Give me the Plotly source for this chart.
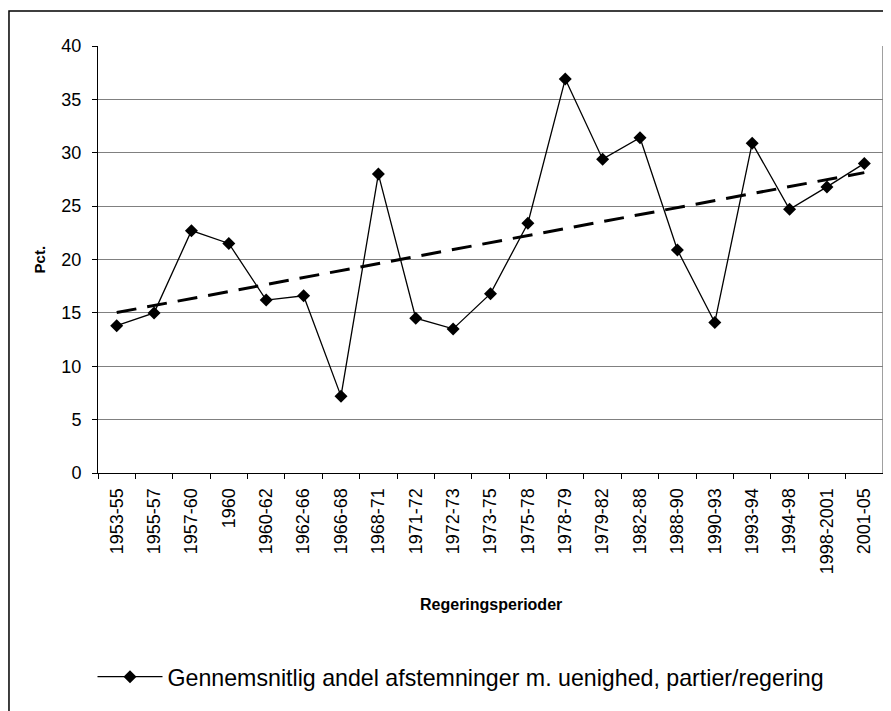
import numpy as np
import plotly.graph_objects as go

periods = ["1953-55", "1955-57", "1957-60", "1960", "1960-62", "1962-66", "1966-68",
           "1968-71", "1971-72", "1972-73", "1973-75", "1975-78", "1978-79", "1979-82",
           "1982-88", "1988-90", "1990-93", "1993-94", "1994-98", "1998-2001", "2001-05"]
values = [13.8, 15.0, 22.7, 21.5, 16.2, 16.6, 7.2, 28.0, 14.5, 13.5, 16.8, 23.4,
          36.9, 29.4, 31.4, 20.9, 14.1, 30.9, 24.7, 26.8, 29.0]
y_ticks = [0, 5, 10, 15, 20, 25, 30, 35, 40]
series_name = "Gennemsnitlig andel afstemninger m. uenighed, partier/regering"
x_title = "Regeringsperioder"
y_title = "Pct."

# linear trendline (as in the original spreadsheet chart)
idx = np.arange(len(values))
slope, intercept = np.polyfit(idx, values, 1)
trend = intercept + slope * idx

font = "Liberation Sans, Arial, sans-serif"

fig = go.Figure()
fig.add_trace(go.Scatter(
    x=periods, y=trend, mode="lines", showlegend=False,
    line=dict(color="black", width=3, dash="20px,11px"), hoverinfo="skip"))
fig.add_trace(go.Scatter(
    x=periods, y=values, mode="lines+markers", name=series_name,
    line=dict(color="black", width=1.3),
    marker=dict(symbol="diamond", size=10, color="black")))

fig.update_layout(
    width=883, height=703,
    margin=dict(l=90, r=8, t=38, b=238),
    paper_bgcolor="white", plot_bgcolor="white",
    font=dict(family=font, color="black"),
    showlegend=True,
    legend=dict(x=-0.007, y=-0.478, xanchor="left", yanchor="middle",
                orientation="h", font=dict(size=23.2, family=font),
                itemwidth=65, bgcolor="rgba(0,0,0,0)"),
    xaxis=dict(type="category", tickson="boundaries", ticks="outside",
               range=[-0.5, len(periods) - 0.5],
               ticklen=5, tickcolor="black", tickangle=-90,
               tickfont=dict(size=18), showline=True, linecolor="black",
               linewidth=1, showgrid=False, zeroline=False,
               ticklabelstandoff=7),
    yaxis=dict(range=[0, 40], tickvals=y_ticks, ticks="outside", ticklen=5,
               tickcolor="black", tickfont=dict(size=18), showline=True,
               linecolor="black", linewidth=1, showgrid=True,
               gridcolor="#808080", gridwidth=1, zeroline=False,
               ticklabelstandoff=7),
    annotations=[
        dict(text="<b>" + y_title + "</b>", xref="paper", yref="paper",
             x=-0.074, y=0.5, textangle=-90, showarrow=False,
             font=dict(size=15), xanchor="center", yanchor="middle"),
        dict(text="<b>" + x_title + "</b>", xref="paper", yref="paper",
             x=0.5, y=-0.309, showarrow=False, font=dict(size=16),
             xanchor="center", yanchor="middle"),
    ],
    shapes=[
        dict(type="line", xref="paper", yref="paper", x0=1, x1=1, y0=0, y1=1,
             line=dict(color="#808080", width=1.5)),
        dict(type="rect", xref="paper", yref="paper", x0=-0.1134, x1=1.05,
             y0=-0.7, y1=1.082, line=dict(color="black", width=1.5)),
    ],
)

fig.write_html("out.html")
